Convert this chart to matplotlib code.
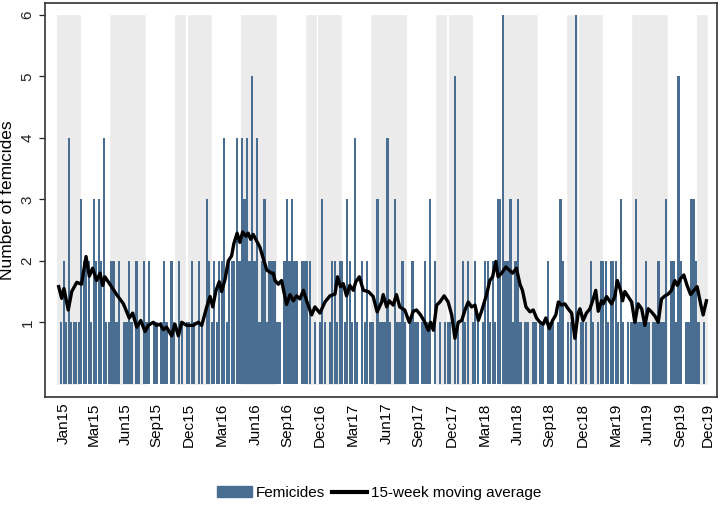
import matplotlib
matplotlib.use("Agg")
import matplotlib.pyplot as plt
from matplotlib.patches import Patch
from matplotlib.lines import Line2D

plt.rcParams["font.family"] = ["Liberation Sans", "DejaVu Sans"]

# weekly femicide counts, week 0 = first week of Jan 2015
femicides = [
    0, 1, 2, 1, 4, 1, 1, 1, 1, 3, 2, 2, 2,
    1, 3, 2, 3, 2, 4, 1, 1, 2, 2, 1, 2, 0,
    1, 1, 2, 1, 0, 2, 1, 0, 2, 1, 2, 0, 1,
    1, 0, 1, 2, 1, 0, 2, 1, 0, 2, 1, 0, 1,
    1, 2, 1, 0, 2, 1, 0, 3, 2, 1, 2, 1, 2,
    2, 4, 1, 2, 2, 2, 4, 2, 4, 3, 4, 2, 5,
    2, 4, 1, 2, 3, 1, 2, 2, 2, 1, 1, 0, 2,
    3, 2, 3, 2, 2, 0, 2, 2, 2, 2, 0, 1, 0,
    1, 3, 1, 0, 1, 2, 2, 1, 2, 2, 1, 3, 2,
    1, 4, 1, 0, 2, 1, 2, 1, 1, 0, 3, 1, 1,
    1, 4, 1, 0, 3, 1, 1, 2, 1, 0, 1, 2, 1,
    1, 0, 1, 2, 1, 3, 0, 2, 0, 1, 0, 1, 1,
    1, 0, 5, 1, 0, 2, 1, 2, 0, 1, 2, 1, 0,
    1, 2, 2, 1, 2, 1, 3, 3, 6, 2, 2, 3, 1,
    2, 3, 1, 0, 1, 1, 0, 1, 1, 0, 1, 1, 0,
    2, 1, 1, 0, 1, 3, 2, 0, 1, 1, 0, 6, 0,
    1, 1, 1, 0, 2, 1, 0, 1, 2, 2, 2, 1, 2,
    2, 2, 1, 3, 1, 0, 1, 1, 1, 3, 1, 1, 1,
    2, 1, 0, 1, 1, 2, 1, 1, 3, 0, 2, 2, 1,
    5, 2, 0, 1, 1, 3, 3, 2, 1, 0, 1, 0,
]

# shaded periods (first week, last week)
shade_start = [0, 21, 47, 52, 73, 99, 104, 125, 151, 156, 177, 203, 208, 229, 255]
shade_end = [8, 34, 50, 60, 86, 102, 112, 138, 154, 164, 190, 206, 216, 242, 258]

# 15-week moving average
ma_week = [
    0, 1.2, 2.1, 3.8, 5.2, 7.2, 9.1, 10.9, 12.2, 13.5, 15.1, 16.5, 17.5, 18.4,
    20.4, 23.1, 25.8, 28.1, 29.5, 31.1, 32.7, 34.4, 35.7, 37.7, 39.0, 40.4,
    41.7, 43.0, 45.0, 46.3, 47.7, 49.0, 51.0, 53.6, 55.6, 57.0, 59.0, 60.3,
    61.4, 62.7, 64.0, 64.9, 66.3, 67.6, 68.9, 69.8, 71.1, 72.2, 73.3, 74.6,
    75.5, 76.5, 77.5, 78.9, 80.2, 81.5, 82.9, 84.8, 85.5, 86.2, 87.5, 88.8,
    90.8, 92.2, 93.5, 94.8, 96.1, 97.5, 98.8, 100.8, 102.1, 104.1, 106.1,
    108.1, 110.1, 111.1, 112.3, 113.4, 114.7, 116.0, 117.4, 118.4, 119.8,
    121.4, 123.4, 125.3, 126.9, 128.7, 129.3, 130.7, 131.7, 133.3, 134.6,
    135.9, 137.9, 139.7, 141.3, 142.6, 144.2, 145.9, 147.3, 148.2, 149.3,
    150.6, 151.9, 153.6, 155.2, 156.6, 157.9, 159.2, 160.6, 161.9, 163.2,
    164.5, 165.9, 167.2, 168.5, 170.5, 171.8, 172.9, 174.2, 175.1, 176.5,
    178.2, 179.5, 180.9, 182.4, 183.8, 184.8, 186.2, 187.8, 189.1, 190.4,
    191.8, 193.1, 194.1, 195.5, 196.8, 198.1, 199.1, 200.4, 201.7, 203.0,
    204.4, 205.7, 207.0, 207.7, 209.0, 210.3, 211.7, 213.0, 214.0, 215.0,
    216.3, 217.0, 218.3, 220.3, 221.6, 222.6, 223.9, 224.7, 225.6, 226.9,
    228.3, 229.6, 230.9, 232.3, 233.6, 234.9, 236.2, 237.6, 238.9, 240.2,
    241.6, 242.9, 244.2, 245.5, 246.5, 247.8, 249.1, 250.4, 251.8, 253.1,
    254.4, 255.8, 256.8, 258.1,
]
ma_value = [
    1.58, 1.39, 1.55, 1.2, 1.5, 1.65, 1.62, 2.07, 1.75, 1.88, 1.68, 1.8, 1.6, 1.74,
    1.62, 1.45, 1.3, 1.07, 1.15, 0.92, 1.03, 0.85, 0.95, 1.0, 0.95, 0.97,
    0.88, 0.92, 0.78, 0.97, 0.78, 1.0, 0.95, 0.95, 1.0, 0.95, 1.25, 1.42,
    1.25, 1.52, 1.66, 1.5, 1.7, 2.0, 2.08, 2.28, 2.45, 2.3, 2.47, 2.4,
    2.45, 2.35, 2.43, 2.32, 2.22, 2.04, 1.85, 1.8, 1.8, 1.68, 1.62, 1.68,
    1.29, 1.45, 1.35, 1.43, 1.38, 1.52, 1.35, 1.12, 1.25, 1.15, 1.33,
    1.43, 1.46, 1.74, 1.58, 1.63, 1.43, 1.6, 1.52, 1.66, 1.74,
    1.52, 1.5, 1.42, 1.17, 1.33, 1.45, 1.25, 1.35, 1.28, 1.45,
    1.25, 1.2, 1.0, 1.18, 1.2, 1.12, 1.0, 0.87, 1.0, 0.87,
    1.28, 1.33, 1.43, 1.33, 1.12, 0.74, 1.0, 1.03, 1.2, 1.33,
    1.25, 1.28, 1.03, 1.18, 1.45, 1.68, 1.74, 1.99, 1.74, 1.8,
    1.9, 1.85, 1.8, 1.88, 1.62, 1.52, 1.25, 1.17, 1.2, 1.07,
    1.0, 0.97, 1.07, 0.9, 1.03, 1.12, 1.33, 1.28, 1.3, 1.22,
    1.15, 0.74, 1.15, 1.22, 1.03, 1.15, 1.22, 1.38, 1.52, 1.18,
    1.35, 1.3, 1.42, 1.3, 1.42, 1.68, 1.52, 1.35, 1.5, 1.42,
    1.33, 1.0, 1.3, 1.22, 0.95, 1.22, 1.17, 1.1, 1.0, 1.38,
    1.43, 1.46, 1.52, 1.68, 1.6, 1.71, 1.77, 1.6, 1.45, 1.52,
    1.58, 1.3, 1.12, 1.35,
]

tick_labels = ["Jan15", "Mar15", "Jun15", "Sep15", "Dec15", "Mar16", "Jun16",
               "Sep16", "Dec16", "Mar17", "Jun17", "Sep17", "Dec17", "Mar18",
               "Jun18", "Sep18", "Dec18", "Mar19", "Jun19", "Sep19", "Dec19"]
tick_weeks = [2.1, 14.1, 26.6, 39, 52, 64.9, 78.4, 91, 104.1, 117.3, 130.6,
              143.3, 156.5, 169.8, 182.8, 195.5, 208.7, 221.8, 234.6, 247.7, 258.7]

bar_color = "#4a6d92"
shade_color = "#ebebeb"

fig = plt.figure(figsize=(7.22, 5.05), dpi=100)
ax = fig.add_axes([0.0623, 0.2133, 0.9307, 0.7814])

weeks = list(range(len(femicides)))

# grey background periods
for s, e in zip(shade_start, shade_end):
    span = list(range(s, e + 1))
    ax.bar(span, [6] * len(span), width=1.0, color=shade_color,
           edgecolor=shade_color, linewidth=0.4, zorder=1)

ax.bar(weeks, femicides, width=0.9, color=bar_color, linewidth=0, zorder=2)
ax.plot(ma_week, ma_value, color="black", linewidth=2.4, zorder=3,
        solid_joinstyle="round")

ax.set_xlim(-5.46, 262.3)
ax.set_ylim(-0.22, 6.2)

ax.set_yticks([1, 2, 3, 4, 5, 6])
ax.set_yticklabels(["1", "2", "3", "4", "5", "6"], rotation=90, va="center")
ax.tick_params(axis="y", length=4.5, width=0.9, pad=3, labelsize=11,
               colors="#222222")
ax.set_ylabel("Number of femicides", fontsize=12.5, labelpad=4)

ax.set_xticks(tick_weeks)
ax.set_xticklabels(tick_labels, rotation=90)
ax.tick_params(axis="x", length=0, pad=4, labelsize=11)

for sp in ax.spines.values():
    sp.set_linewidth(1.2)
    sp.set_color("#333333")

handles = [Patch(facecolor=bar_color, edgecolor=bar_color, label="Femicides"),
           Line2D([0], [0], color="black", linewidth=3, label="15-week moving average")]
fig.legend(handles=handles, loc="center", bbox_to_anchor=(0.525, 0.024), ncol=2,
           frameon=False, fontsize=11, handlelength=2.3, handletextpad=0.2,
           columnspacing=0.5)

fig.savefig("out.png", dpi=100)
